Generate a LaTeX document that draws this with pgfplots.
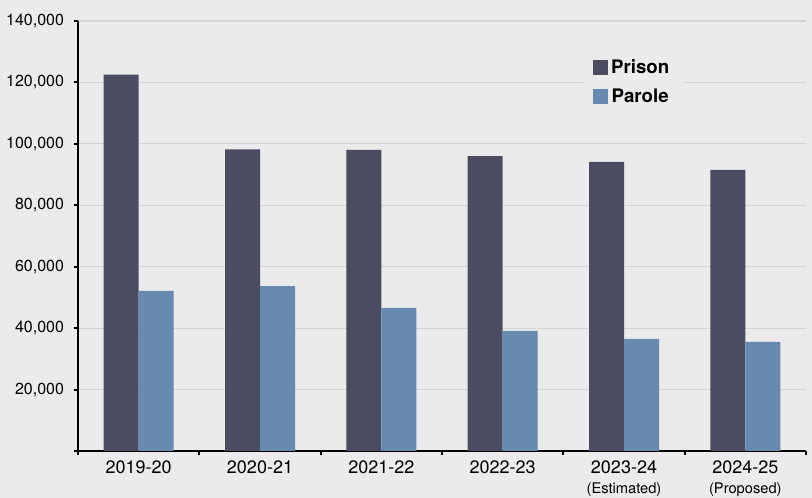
\documentclass[border=0pt]{standalone}
\usepackage{pgfplots}
\pgfplotsset{compat=1.18}
\usepackage{fontspec}
\setmainfont{TeX Gyre Heros}
\definecolor{bg}{HTML}{EBEBEB}
\definecolor{prison}{HTML}{4B4C62}
\definecolor{parole}{HTML}{6889B0}
\definecolor{gridc}{HTML}{D4D4D4}
\begin{document}
\begin{tikzpicture}[x=0.75pt,y=0.75pt]
\fill[bg] (-78,-47) rectangle (734,451);
\useasboundingbox (-78,-47) rectangle (734,451);
\begin{axis}[
  at={(0,0)}, anchor=south west,
  scale only axis,
  width=546pt, height=322.5pt,
  ymin=0, ymax=140000,
  xmin=-0.5, xmax=5.5,
  axis x line*=bottom, axis y line*=left,
  axis line style={black, line width=1.5pt},
  every tick/.style={black, line width=1.5pt},
  major tick length=3pt,
  tick align=outside,
  scaled y ticks=false,
  ytick={20000,40000,60000,80000,100000,120000,140000},
  yticklabels={20{,}000,40{,}000,60{,}000,80{,}000,100{,}000,120{,}000,140{,}000},
  extra y ticks={0}, extra y tick labels={},
  ymajorgrids,
  major grid style={gridc, line width=0.9pt},
  extra y tick style={grid=none},
  yticklabel style={font=\fontsize{12}{13}\selectfont, xshift=-4pt},
  xtick={-0.5,0.5,...,5.5},
  x tick label as interval,
  xticklabels={2019-20,2020-21,2021-22,2022-23,{2023-24\\[1pt]{\fontsize{11}{12}\selectfont (Estimated)}},{2024-25\\[1pt]{\fontsize{11}{12}\selectfont (Proposed)}}},
  xticklabel style={font=\fontsize{13.5}{14}\selectfont, align=center, anchor=north, yshift=-1pt},
  ybar=0pt, bar width=26.25pt,
  legend style={at={(0.693,0.935)}, anchor=north west, fill=bg, draw=none,
    font=\fontsize{14}{15}\selectfont\bfseries, row sep=6pt, inner xsep=8pt, inner ysep=6pt},
  legend image code/.code={\fill[#1] (0pt,-5.6pt) rectangle (11.25pt,5.6pt);},
  clip=false,
]
\addplot[fill=prison, draw=none] coordinates {(0,122500) (1,98200) (2,98000) (3,96000) (4,94100) (5,91500)};
\addplot[fill=parole, draw=none] coordinates {(0,52100) (1,53700) (2,46600) (3,39100) (4,36500) (5,35500)};
\legend{Prison, Parole}
\end{axis}
\end{tikzpicture}
\end{document}
